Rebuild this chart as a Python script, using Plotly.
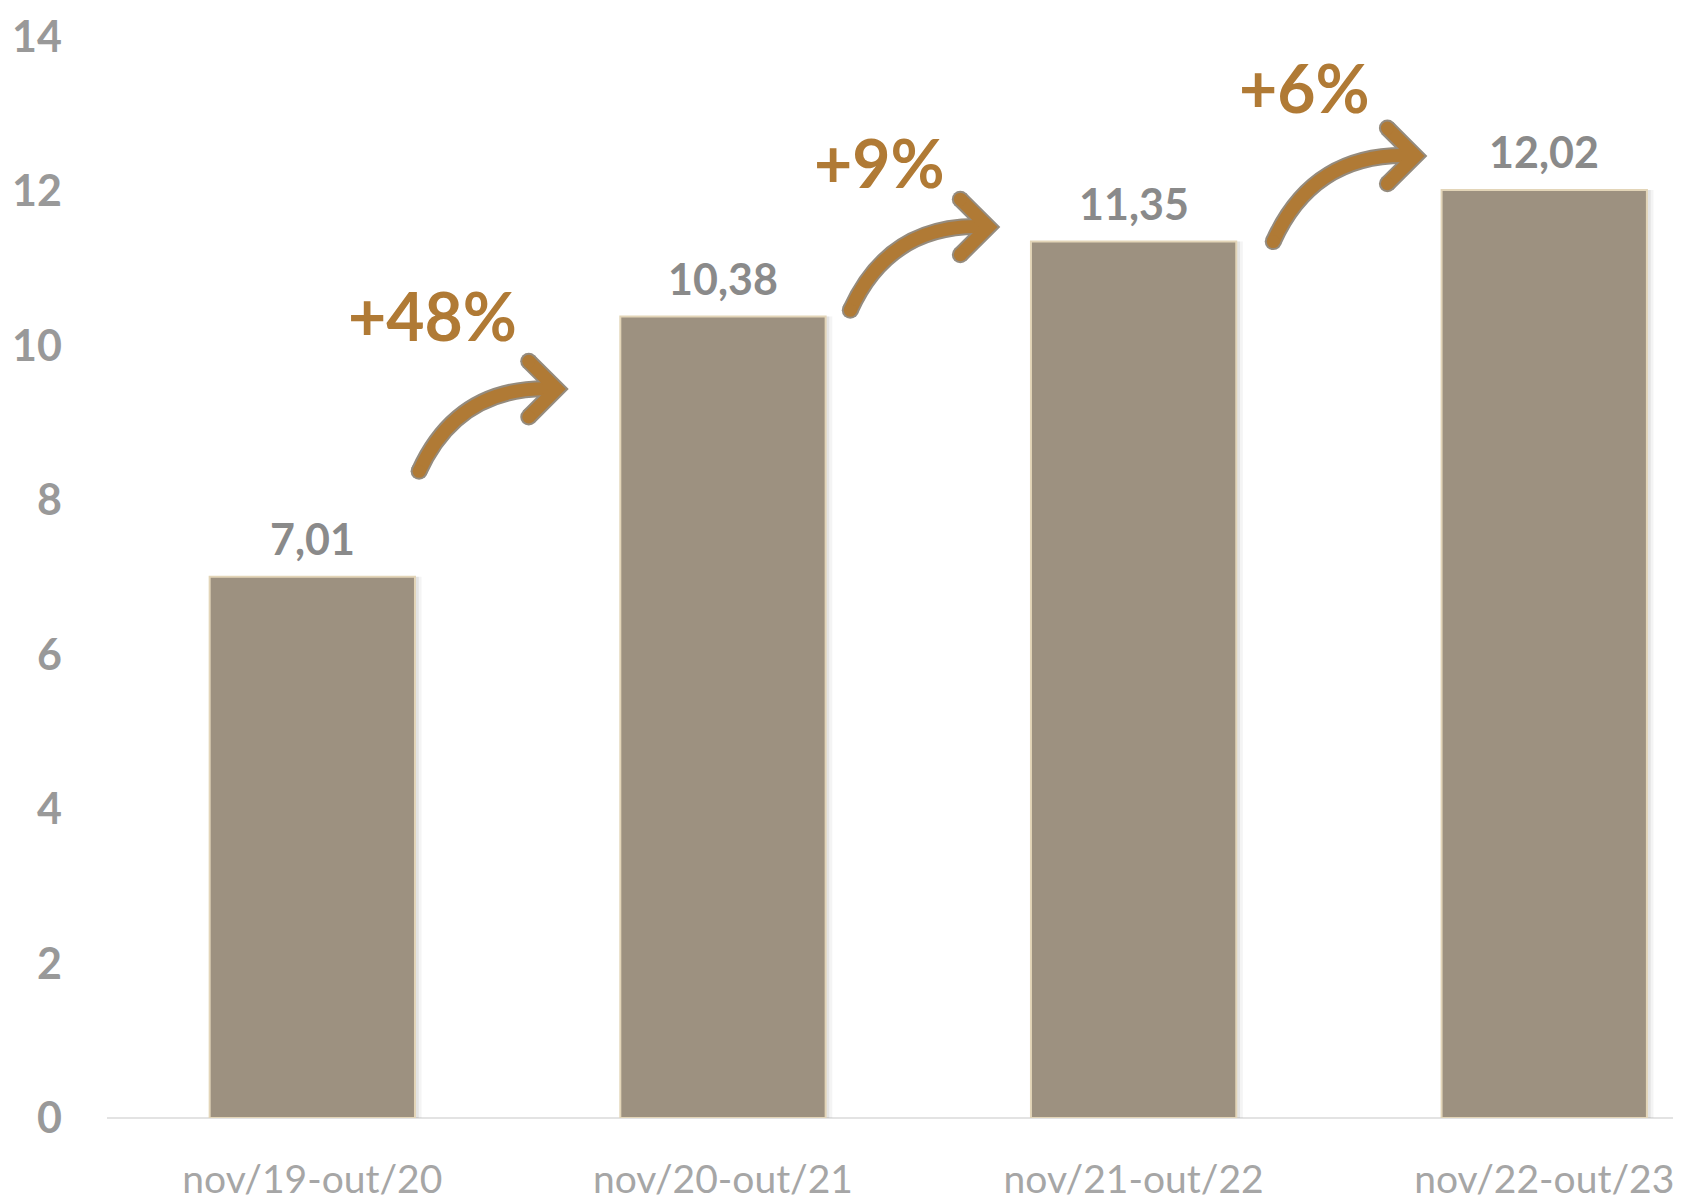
import plotly.graph_objects as go

# ---- data ----
categories = ["nov/19-out/20", "nov/20-out/21", "nov/21-out/22", "nov/22-out/23"]
values = [7.01, 10.38, 11.35, 12.02]
y_ticks = [0, 2, 4, 6, 8, 10, 12, 14]

# ---- styling / layout constants ----
BAR_COLOR = "#9d9180"
BAR_EDGE = "#e3d5b8"
GOLD = "#b07a35"
OUTLINE = "#948b7e"
VAL_COLOR = "#8a8a8a"
TICK_COLOR = "#999999"
CAT_COLOR = "#a6a6a6"

# arrow placement offsets (index units / value units), relative to bars
arrow_start_dx = [0.26, 0.31, 0.34]
arrow_start_dy = [1.365, 0.08, 0.0]
arrow_tip_dx = [-0.405, -0.354, -0.314]
arrow_tip_dy = [-0.94, 0.19, 0.44]
pct_label_dx = [-0.303, -0.266, -0.271]
pct_label_dy = [0.95, 0.835, 0.89]

x_idx = list(range(len(categories)))

fig = go.Figure()
# soft shadow to the right of each bar
for off, alpha in ((0.016, 0.08), (0.009, 0.12)):
    fig.add_trace(go.Bar(
        x=[v + off for v in x_idx], y=values, width=0.5,
        marker=dict(color=f"rgba(110,110,110,{alpha})", line=dict(width=0)),
        hoverinfo="skip",
    ))
fig.add_trace(go.Bar(
    x=x_idx, y=values, width=0.5,
    marker=dict(color=BAR_COLOR, line=dict(color=BAR_EDGE, width=2)),
    hoverinfo="skip",
))

shapes_under = []
shapes_over = []
annotations = []


def cap(x, y, r, color):
    return dict(type="circle", xref="x", yref="y", xsizemode="pixel", ysizemode="pixel",
                xanchor=x, yanchor=y, x0=-r, x1=r, y0=-r, y1=r,
                fillcolor=color, line=dict(width=0), layer="above")


for i in range(len(values) - 1):
    x0 = x_idx[i] + arrow_start_dx[i]
    y0 = values[i] + arrow_start_dy[i]
    x1 = x_idx[i + 1] + arrow_tip_dx[i]
    y1 = values[i + 1] + arrow_tip_dy[i]
    cx = x0 + 0.29 * (x1 - x0)
    cy = y0 + 1.07 * (y1 - y0)
    ax = x1 - 0.068
    ady = 0.36
    curve = f"M {x0},{y0} Q {cx},{cy} {x1},{y1}"
    head = f"M {ax},{y1+ady} L {x1},{y1} L {ax},{y1-ady}"
    ends = [(x0, y0), (ax, y1 + ady), (ax, y1 - ady)]
    for path in (curve, head):
        shapes_under.append(dict(type="path", path=path, xref="x", yref="y",
                                 line=dict(color=OUTLINE, width=17), layer="above"))
    for ex, ey in ends:
        shapes_under.append(cap(ex, ey, 8.5, OUTLINE))
    for path in (curve, head):
        shapes_over.append(dict(type="path", path=path, xref="x", yref="y",
                                line=dict(color=GOLD, width=13), layer="above"))
    for ex, ey in ends:
        shapes_over.append(cap(ex, ey, 6.5, GOLD))
    pct = round((values[i + 1] / values[i] - 1) * 100)
    annotations.append(dict(
        x=x1 + pct_label_dx[i], y=y1 + pct_label_dy[i], xref="x", yref="y",
        text=f"+{pct}%", showarrow=False,
        font=dict(family="Lato", size=66, color=GOLD, weight="bold"),
    ))

for xi, v in zip(x_idx, values):
    annotations.append(dict(
        x=xi, y=v, xref="x", yref="y", yanchor="bottom", yshift=11,
        text=f"{v:.2f}".replace(".", ","), showarrow=False,
        font=dict(family="Lato", size=43, color=VAL_COLOR, weight="bold"),
    ))

# page body has an 8px margin: size the figure so the plot lands where intended
fig.update_layout(
    width=1673, height=1195,
    margin=dict(l=99, r=0, t=29, b=85),
    paper_bgcolor="white", plot_bgcolor="white",
    separators=",.",
    showlegend=False,
    barmode="overlay",
    shapes=shapes_under + shapes_over, annotations=annotations,
    xaxis=dict(
        range=[-0.5, 3.333], tickmode="array", tickvals=x_idx, ticktext=categories,
        showgrid=False, zeroline=False, showline=False, ticks="", automargin=False,
        tickfont=dict(family="Lato", size=39, color=CAT_COLOR),
        ticklabelstandoff=35,
    ),
    yaxis=dict(
        range=[0, 14], tickmode="array", tickvals=y_ticks, automargin=False,
        showgrid=False, zeroline=True, zerolinecolor="#e3e3e3", zerolinewidth=2,
        showline=False, ticks="",
        tickfont=dict(family="Lato", size=43, color=TICK_COLOR, weight="bold"),
        ticklabelstandoff=44,
    ),
)

fig.write_html("out.html")
